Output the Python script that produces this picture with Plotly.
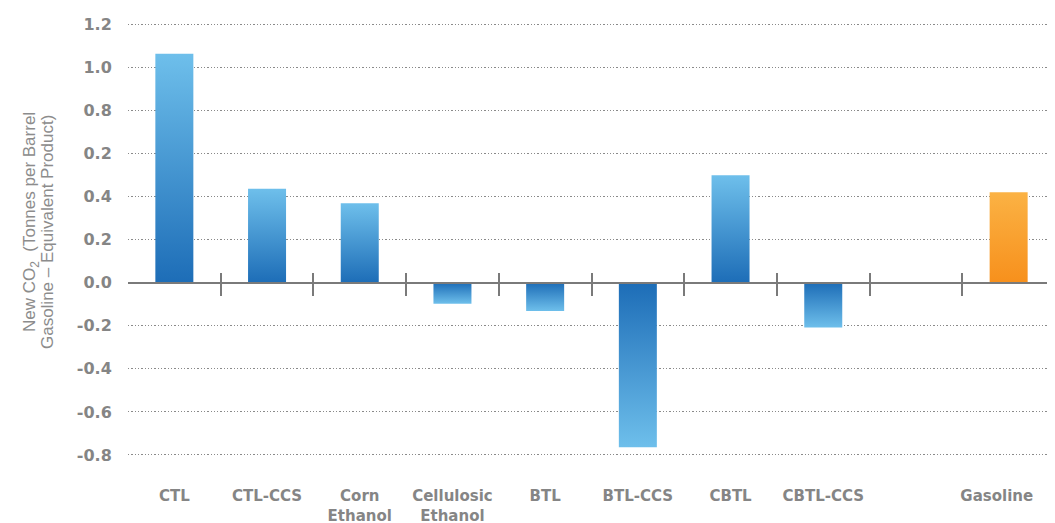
import plotly.graph_objects as go

categories = ["CTL", "CTL-CCS", "Corn<br>Ethanol", "Cellulosic<br>Ethanol", "BTL",
              "BTL-CCS", "CBTL", "CBTL-CCS", "", "Gasoline"]
values = [1.065, 0.437, 0.37, -0.097, -0.131, -0.764, 0.5, -0.208, None, 0.421]
is_gasoline = [False] * 9 + [True]

y_tickvals = [1.2, 1.0, 0.8, 0.6, 0.4, 0.2, 0.0, -0.2, -0.4, -0.6, -0.8]
y_ticktext = ["1.2", "1.0", "0.8", "0.2", "0.4", "0.2", "0.0", "-0.2", "-0.4", "-0.6", "-0.8"]

title_lines = ["New CO<sub>2</sub>&nbsp;&nbsp;(Tonnes per Barrel", "Gasoline – Equivalent Product)"]

BLUE_DARK, BLUE_LIGHT = "#1d6db7", "#6ebfeb"
ORANGE_DARK, ORANGE_LIGHT = "#f7901c", "#fbb244"
GREY = "#858585"
Y_RANGE = [-0.87, 1.245]
HALF = 0.205

fig = go.Figure()

# each bar is a filled polygon so it can carry a vertical gradient
for i, (v, gas) in enumerate(zip(values, is_gasoline)):
    if v is None:
        continue
    dark, light = (ORANGE_DARK, ORANGE_LIGHT) if gas else (BLUE_DARK, BLUE_LIGHT)
    scale = [[0, dark], [1, light]] if v > 0 else [[0, light], [1, dark]]
    fig.add_trace(go.Scatter(
        x=[i - HALF, i + HALF, i + HALF, i - HALF, i - HALF],
        y=[0, 0, v, v, 0],
        mode="lines",
        fill="toself",
        fillgradient=dict(type="vertical", colorscale=scale),
        line=dict(width=0),
        showlegend=False,
        hoverinfo="skip",
    ))

zero_pos = (0 - Y_RANGE[0]) / (Y_RANGE[1] - Y_RANGE[0])
boundaries = [i + 0.5 for i in range(len(categories) - 1)]
x_labels = [f"<b>{c}</b>" for c in categories]
x_labels[-1] = "<b>Gasoline</b>" + "&nbsp;" * 5  # sits a bit left of its bar, like the original

# the two title lines are separate so their spacing can be tight
title_annots = [
    dict(text=t, x=0, xref="paper", xanchor="center", xshift=xs,
         y=yp, yref="paper", yanchor="middle", textangle=-90, showarrow=False,
         font=dict(family="Liberation Sans", size=17, color="#8c8c8c"))
    for t, xs, yp in zip(title_lines, [-97, -81], [0.545, 0.523])
]

# the page body has an 8px margin, so the figure is 8px smaller than the window
fig.update_layout(
    width=1047, height=515,
    margin=dict(l=120, r=0, t=7, b=53),
    plot_bgcolor="white", paper_bgcolor="white",
    xaxis=dict(
        range=[-0.5, len(categories) - 0.5],
        tickvals=list(range(len(categories))),
        ticktext=x_labels,
        tickfont=dict(family="DejaVu Sans", size=15, color=GREY),
        ticks="outside", ticklen=12, tickcolor="rgba(0,0,0,0)",
        ticklabeloverflow="allow",
        showgrid=False, zeroline=False, showline=False, automargin=False,
    ),
    xaxis2=dict(
        overlaying="x", matches="x", anchor="free", position=zero_pos,
        tickvals=boundaries, showticklabels=False,
        ticks="outside", ticklen=12, tickwidth=2, tickcolor="#7a7a7a",
        showline=True, linecolor="#7a7a7a", linewidth=2,
        showgrid=False, zeroline=False, automargin=False,
    ),
    xaxis3=dict(
        overlaying="x", matches="x", anchor="free", position=zero_pos,
        tickvals=boundaries, showticklabels=False,
        ticks="inside", ticklen=10, tickwidth=2, tickcolor="#7a7a7a",
        showline=False, showgrid=False, zeroline=False, automargin=False,
    ),
    yaxis=dict(
        range=Y_RANGE,
        tickvals=y_tickvals,
        ticktext=[f"<b>{t}</b>" for t in y_ticktext],
        tickfont=dict(family="DejaVu Sans", size=16, color=GREY),
        ticks="outside", ticklen=12, tickcolor="rgba(0,0,0,0)",
        showgrid=True, gridcolor="#8a8a8a", gridwidth=1.3, griddash="1.3px,2px",
        zeroline=False, showline=False, automargin=False,
    ),
    annotations=title_annots,
)

# dummy traces so the overlay axes get drawn
fig.add_trace(go.Scatter(x=[0], y=[None], xaxis="x2", showlegend=False, hoverinfo="skip"))
fig.add_trace(go.Scatter(x=[0], y=[None], xaxis="x3", showlegend=False, hoverinfo="skip"))

fig.write_html("out.html")
